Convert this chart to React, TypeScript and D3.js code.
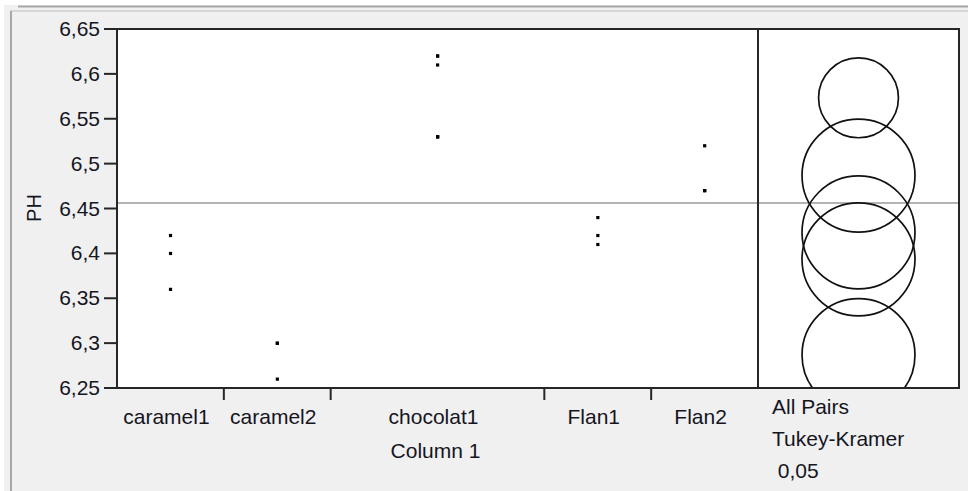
import React from "react";
import * as d3 from "d3";

// ---- data ----
const categories = ["caramel1", "caramel2", "chocolat1", "Flan1", "Flan2"];
const caramel1 = [6.42, 6.40, 6.36];
const caramel2 = [6.30, 6.30, 6.26];
const chocolat1 = [6.62, 6.61, 6.53, 6.62, 6.53, 6.53];
const flan1 = [6.44, 6.42, 6.41];
const flan2 = [6.52, 6.47, 6.47];
const seriesValues = [caramel1, caramel2, chocolat1, flan1, flan2];
const yTicks = [6.25, 6.3, 6.35, 6.4, 6.45, 6.5, 6.55, 6.6, 6.65];
const yDomain = [6.25, 6.65];
const circleK = 0.109; // comparison circle radius = circleK / sqrt(n), in PH units
const yAxisTitle = "PH";
const xAxisTitle = "Column 1";
const compLabels = ["All Pairs", "Tukey-Kramer", " 0,05"];

const W = 968;
const H = 491;
const plotL = 117;
const plotR = 758;
const compR = 959;
const plotT = 29;
const plotB = 388;
const FONT = "'Liberation Sans', Arial, sans-serif";
const TXT = "#15151f";
const LINE = "#262626";

export default function App() {
  const y = d3.scaleLinear().domain(yDomain).range([plotB, plotT]);
  const counts = seriesValues.map((s) => s.length);
  const total = d3.sum(counts);
  const x = d3.scaleLinear().domain([0, total]).range([plotL, plotR]);
  const cum: number[] = [0];
  counts.forEach((c, i) => cum.push(cum[i] + c));
  const means = seriesValues.map((s) => d3.mean(s) as number);
  const grand = d3.mean(seriesValues.flat()) as number;
  const compCx = (plotR + compR) / 2;
  const fmt = (v: number) => String(+v.toFixed(2)).replace(".", ",");

  return (
    <svg
      width={W}
      height={H}
      style={{ position: "absolute", left: 0, top: 0, background: "#fff" }}
      fontFamily={FONT}
    >
      <defs>
        <clipPath id="compClip">
          <rect x={plotR} y={plotT} width={compR - plotR} height={plotB - plotT} />
        </clipPath>
      </defs>
      {/* panel background and frames */}
      <rect x={4} y={5} width={W - 4} height={H - 5} fill="#f0f0f0" />
      <line x1={18} x2={W} y1={6.5} y2={6.5} stroke="#a8a8a8" strokeWidth={2} />
      <line x1={10} x2={W} y1={11} y2={11} stroke="#bdbdbd" strokeWidth={1} />
      <line x1={11} x2={11} y1={11} y2={H} stroke="#a8a8a8" strokeWidth={2} />

      {/* plot areas */}
      <rect x={plotL} y={plotT} width={compR - plotL} height={plotB - plotT} fill="#fff" />

      {/* grand mean */}
      <line x1={plotL} x2={compR} y1={y(grand)} y2={y(grand)} stroke="#9a9a9a" strokeWidth={1.5} />

      {/* points */}
      {seriesValues.map((s, i) => {
        const cx = x((cum[i] + cum[i + 1]) / 2);
        return s.map((v, j) => (
          <rect key={`${i}-${j}`} x={cx - 1.5} y={y(v) - 1.5} width={3.2} height={3.2} fill="#000" />
        ));
      })}

      {/* comparison circles */}
      <g clipPath="url(#compClip)">
        {means.map((m, i) => (
          <circle
            key={i}
            cx={compCx}
            cy={y(m)}
            r={y(yDomain[0]) - y(yDomain[0] + circleK / Math.sqrt(counts[i]))}
            fill="none"
            stroke="#111"
            strokeWidth={1.7}
          />
        ))}
      </g>

      {/* frames */}
      <rect x={plotL} y={plotT} width={compR - plotL} height={plotB - plotT} fill="none" stroke={LINE} strokeWidth={2} />
      <line x1={plotR} x2={plotR} y1={plotT} y2={plotB} stroke={LINE} strokeWidth={2} />

      {/* y axis */}
      {yTicks.map((t) => (
        <g key={t}>
          <line x1={plotL - 13} x2={plotL} y1={y(t)} y2={y(t)} stroke={LINE} strokeWidth={2} />
          <text x={100} y={y(t) + 7} textAnchor="end" fontSize={21} fill={TXT}>
            {fmt(t)}
          </text>
        </g>
      ))}
      <text
        transform={`translate(41,208) rotate(-90)`}
        textAnchor="middle"
        fontSize={20}
        fill={TXT}
      >
        {yAxisTitle}
      </text>

      {/* x axis */}
      {cum.slice(1, -1).map((c, i) => (
        <line key={i} x1={x(c)} x2={x(c)} y1={plotB} y2={plotB + 12} stroke={LINE} strokeWidth={2} />
      ))}
      {categories.map((c, i) => (
        <text
          key={c}
          x={x((cum[i] + cum[i + 1]) / 2) - 4}
          y={424}
          textAnchor="middle"
          fontSize={21}
          fill={TXT}
        >
          {c}
        </text>
      ))}
      <text x={(plotL + plotR) / 2 - 2} y={458} textAnchor="middle" fontSize={21} fill={TXT}>
        {xAxisTitle}
      </text>

      {/* comparison labels */}
      {compLabels.map((l, i) => (
        <text key={i} x={772} y={414 + i * 32} fontSize={21} fill={TXT} style={{ whiteSpace: "pre" }}>
          {l}
        </text>
      ))}
    </svg>
  );
}
